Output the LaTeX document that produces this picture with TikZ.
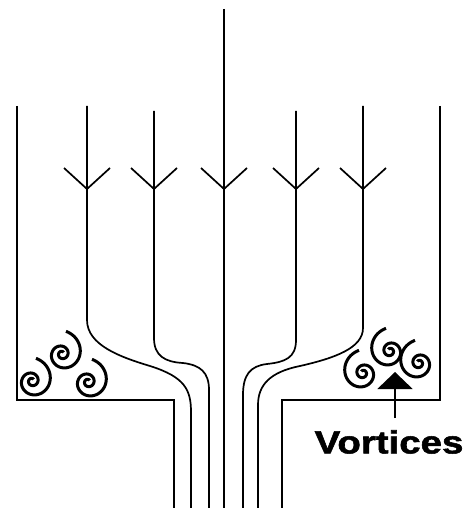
\documentclass[tikz,border=0pt]{standalone}
\usepackage{fontspec}
\usepackage{graphicx}
\usetikzlibrary{arrows.meta}
\newfontfamily\vortfont{Liberation Sans}[BoldFeatures={FakeBold=1.6}]
\tikzset{
	flowline/.style={line width=1.7pt},
	wall/.style={line width=2pt},
	swirlline/.style={line width=3pt},
	swirl/.pic={\draw[swirlline] plot[domain=0:2.1, samples=140, smooth] ({-80+360*\x}:{23*exp(-1.1*\x)});}
}
\begin{document}
\begin{tikzpicture}[x=1pt,y=-1pt]
		\useasboundingbox (0,0) rectangle (470,508);
		\draw[wall] (17,106) -- (17,400) -- (174,400) -- (174,508);
		\draw[wall] (440,106) -- (440,400) -- (282,400) -- (282,508);
		\draw[flowline] (224,9) -- (224,508);
		\draw[flowline] (87,106) -- (87,320) .. controls (87,345) and (120,357) .. (150,366) .. controls (185,377) and (191,390) .. (191,412) -- (191,508);
		\draw[flowline] (154,111) -- (154,338) .. controls (154,356) and (165,362) .. (183,363) .. controls (200,365) and (209,372) .. (209,390) -- (209,508);
		\draw[flowline] (296,111) -- (296,340) .. controls (296,358) and (285,362) .. (267,364) .. controls (250,366) and (243,375) .. (243,395) -- (243,508);
		\draw[flowline] (363,106) -- (363,328) .. controls (363,348) and (335,358) .. (300,366) .. controls (270,372) and (258,385) .. (258,405) -- (258,508);
		\foreach \x in {87,154,224,296,363}
			\draw[flowline] (\x-23,168) -- (\x,189) -- (\x+23,168);
		\pic at (32,381) {swirl};
		\pic at (62,354) {swirl};
		\pic at (88,382) {swirl};
		\pic[xscale=-1] at (363,373) {swirl};
		\pic[xscale=-1] at (390,351) {swirl};
		\pic[xscale=-1] at (419,363) {swirl};
		\node[font=\vortfont\bfseries\fontsize{32}{36}\selectfont, inner sep=0pt] (vortlabel) at (389,442) {\scalebox{1.2}[1]{Vortices}};
		\coordinate (tip) at (395,372);
		\coordinate (tail) at (395,418);
		\draw[line width=2pt, -{Triangle[length=17pt,width=35pt]}] (tail) -- (tip);
	\end{tikzpicture}
\end{document}
